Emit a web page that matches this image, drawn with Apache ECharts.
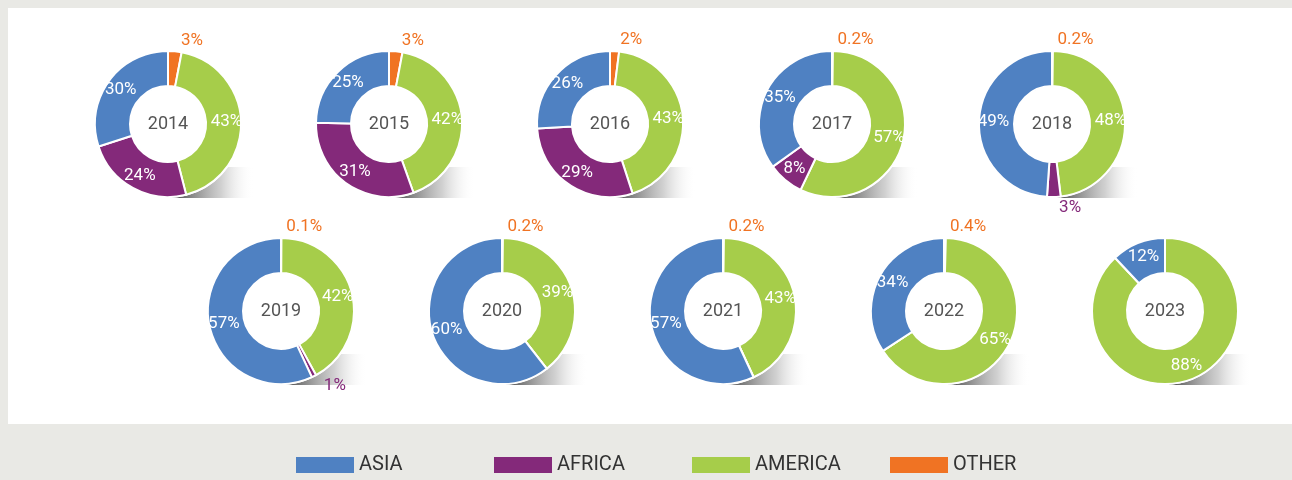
<!DOCTYPE html>
<html>
<head>
<meta charset="utf-8">
<style>
  html, body { margin: 0; padding: 0; background: #e9e9e5; }
  #chart { width: 1292px; height: 480px; }
</style>
<script src="https://cdn.jsdelivr.net/npm/echarts@6/dist/echarts.min.js"></script>
</head>
<body>
<div id="chart"></div>
<script>
// share by region, per year (%)
const years = ['2014', '2015', '2016', '2017', '2018', '2019', '2020', '2021', '2022', '2023']
const asia = [30, 25, 26, 35, 49, 57, 60, 57, 34, 12]
const africa = [24, 31, 29, 8, 3, 1, 0, 0, 0, 0]
const america = [43, 42, 43, 57, 48, 42, 39, 43, 65, 88]
const other = [3, 3, 2, 0.2, 0.2, 0.1, 0.2, 0.2, 0.4, 0]
const regions = ['ASIA', 'AFRICA', 'AMERICA', 'OTHER']

const colors = {
  ASIA: '#4f81c2',
  AFRICA: '#84297a',
  AMERICA: '#a6cd4a',
  OTHER: '#f07323',
}

// donut centres (px), two rows
const centers = [
  [168, 124], [389, 124], [610, 124], [832, 124], [1052, 124],
  [281, 311], [502, 311], [723, 311], [944, 311], [1165, 311],
]
const rInner = 38
const rOuter = 73
// legend item x positions
const legendLeft = [291, 489, 687, 885]
const font = "'Roboto', 'Liberation Sans Narrow', 'DejaVu Sans Condensed', sans-serif"

const makeItem = (name, value) => {
  const small = value < 5
  return {
    name,
    value,
    itemStyle: { color: colors[name] },
    label: {
      show: value > 0,
      position: small ? 'outside' : 'inside',
      align: 'center',
      color: small ? colors[name] : '#fff',
    },
    labelLine: { show: false, length: 11, length2: 0 },
  }
}

const series = years.map((y, i) => ({
  type: 'pie',
  name: y,
  center: centers[i],
  radius: [rInner, rOuter],
  startAngle: 90,
  clockwise: true,
  avoidLabelOverlap: false,
  emphasis: { disabled: true },
  itemStyle: { borderColor: '#fff', borderWidth: 2 },
  label: {
    formatter: (p) => p.value + '%',
    fontFamily: font,
    fontSize: 17,
  },
  // clockwise from 12 o'clock: other, america, africa, asia
  data: [
    makeItem('OTHER', other[i]),
    makeItem('AMERICA', america[i]),
    makeItem('AFRICA', africa[i]),
    makeItem('ASIA', asia[i]),
  ],
}))

const graphics = [
  { type: 'rect', z: 0, shape: { x: 8, y: 8, width: 1284, height: 416 }, style: { fill: '#fff' } },
]
centers.forEach((c, i) => {
  graphics.push({
    type: 'rect',
    z: 1,
    shape: { x: c[0] + 4, y: c[1] + 43, width: 82, height: 31 },
    style: {
      fill: new echarts.graphic.LinearGradient(0, 0, 1, 0, [
        { offset: 0, color: 'rgba(50,50,50,0.9)' },
        { offset: 0.6, color: 'rgba(170,170,170,0.55)' },
        { offset: 1, color: 'rgba(255,255,255,0)' },
      ]),
    },
  })
  graphics.push({
    type: 'circle',
    z: 2,
    shape: { cx: c[0], cy: c[1], r: rOuter + 1 },
    style: { fill: '#fff' },
  })
  graphics.push({
    type: 'text',
    z: 3,
    x: c[0],
    y: c[1],
    style: {
      text: years[i],
      align: 'center',
      verticalAlign: 'middle',
      fontFamily: font,
      fontSize: 18,
      fill: '#555',
    },
  })
})

const legends = regions.map((r, i) => ({
  data: [r],
  left: legendLeft[i],
  top: 450,
  itemWidth: 58,
  itemHeight: 16,
  icon: 'rect',
  itemStyle: { borderWidth: 0 },
  textStyle: { fontFamily: font, fontSize: 20, color: '#333' },
}))

const chart = echarts.init(document.getElementById('chart'))
chart.setOption({
  backgroundColor: '#e9e9e5',
  animation: false,
  graphic: { elements: graphics },
  legend: legends,
  series,
})
</script>
</body>
</html>
